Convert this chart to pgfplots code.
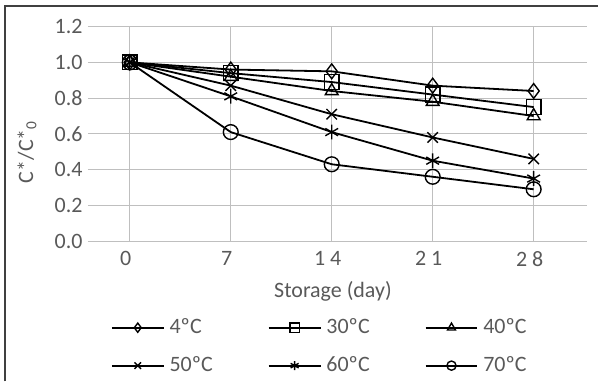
\documentclass[border=0pt]{standalone}
\usepackage{pgfplots}
\pgfplotsset{compat=1.18}
\usepackage{fontspec}
\setmainfont{Carlito}
\definecolor{txt}{HTML}{595959}
\definecolor{grid}{HTML}{D9D9D9}
\definecolor{frame}{HTML}{404040}
\begin{document}
\begin{tikzpicture}
\fontsize{11bp}{13bp}\selectfont
% page extent
\path (0bp,0bp) rectangle (299.5bp,-191bp);
% frame (top and left)
\draw[frame, line width=1bp] (2.75bp,-191bp) -- (2.75bp,-3bp) -- (299.5bp,-3bp);
\begin{axis}[
  at={(44bp,-120.75bp)}, anchor=south west,
  scale only axis, width=250bp, height=107.4bp,
  xmin=-2.907, xmax=31.70, ymin=0, ymax=1.2,
  axis line style={draw=none},
  ymajorgrids, grid style={grid, line width=0.6bp},
  xtick={0,7,14,21,28}, xticklabels={0,7,1 4,2 1,2 8},
  ytick={0,0.2,0.4,0.6,0.8,1.0,1.2},
  yticklabel={\pgfmathprintnumber[fixed,fixed zerofill,precision=1]{\tick}},
  /pgf/number format/assume math mode=true,
  major tick length=0pt, tick style={draw=none},
  xticklabel style={text=txt, inner sep=0pt, anchor=north, yshift=-5bp, xshift=-2bp},
  yticklabel style={text=txt, inner sep=0pt, anchor=east, xshift=-2.5bp},
  every axis plot/.append style={black, line width=0.9bp, mark size=3.7bp, mark options={solid, line width=0.7bp, fill=none}},
  legend columns=3,
  legend style={at={(axis description cs:0.0454,-0.36)}, anchor=north west, draw=none, fill=none, inner sep=0pt,
    text=txt, row sep=10bp,
    nodes={inner sep=0pt, text height=7.5bp, text depth=1.5bp, anchor=base west},
    /tikz/every odd column/.append style={column sep=2.5bp},
    /tikz/every even column/.append style={column sep=27.5bp}},
  legend image code/.code={%
    \draw[#1, mark=none, line width=0.9bp] (0bp,3bp) -- (26bp,3bp);
    \draw[#1, mark size=2.3bp, line width=0.6bp] plot coordinates {(13bp,3bp)};
  },
]
\addplot[mark=diamond] coordinates {(0,1.00) (7,0.96) (14,0.95) (21,0.87) (28,0.84)};
\addlegendentry{4ºC}
\addplot[mark=square] coordinates {(0,1.00) (7,0.94) (14,0.89) (21,0.82) (28,0.75)};
\addlegendentry{30ºC}
\addplot[mark=triangle] coordinates {(0,1.00) (7,0.92) (14,0.84) (21,0.78) (28,0.70)};
\addlegendentry{40ºC}
\addplot[mark=x] coordinates {(0,1.00) (7,0.87) (14,0.71) (21,0.58) (28,0.46)};
\addlegendentry{50ºC}
\addplot[mark=asterisk] coordinates {(0,1.00) (7,0.81) (14,0.61) (21,0.45) (28,0.35)};
\addlegendentry{60ºC}
\addplot[mark=o] coordinates {(0,1.00) (7,0.61) (14,0.43) (21,0.36) (28,0.29)};
\addlegendentry{70ºC}
\end{axis}
\node[text=txt, rotate=90, inner sep=0pt] at (13.5bp,-76bp) {C*/C*\textsubscript{0}};
\node[text=txt, inner sep=0pt] at (166.75bp,-146bp) {Storage (day)};
\end{tikzpicture}
\end{document}
